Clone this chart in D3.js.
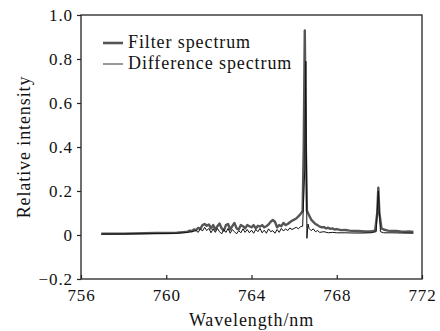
<!DOCTYPE html>
<html>
<head>
<meta charset="utf-8">
<script src="https://cdn.jsdelivr.net/npm/d3@7"></script>
<style>
  body { margin: 0; background: #fff; }
  svg text { font-family: "Liberation Serif", "Times New Roman", serif; fill: #111; letter-spacing: 0.9px; }
</style>
</head>
<body>
<div id="chart"></div>
<script>
// Spectrum values
const filterWl = [756.95, 757.5, 758.0, 758.5, 759.0, 759.5, 760.0, 760.5, 760.8, 761.0,
  761.1, 761.2, 761.3, 761.4, 761.5, 761.6, 761.7, 761.8, 761.9, 762.0,
  762.1, 762.2, 762.3, 762.4, 762.5, 762.6, 762.7, 762.8, 762.9, 763.0,
  763.1, 763.2, 763.3, 763.4, 763.5, 763.6, 763.7, 763.8, 763.9, 764.0,
  764.1, 764.2, 764.3, 764.4, 764.5, 764.6, 764.7, 764.8, 764.9, 765.0,
  765.1, 765.2, 765.3, 765.4, 765.5, 765.6, 765.7, 765.8, 765.9, 766.0,
  766.1, 766.2, 766.3, 766.4, 766.45, 766.5, 766.55, 766.6, 766.7, 766.8,
  766.9, 767.0, 767.1, 767.2, 767.3, 767.4, 767.5, 767.6, 767.7, 767.8,
  767.9, 768.0, 768.2, 768.4, 768.6, 768.8, 769.0, 769.3, 769.6, 769.8,
  769.9, 769.95, 770.0, 770.1, 770.2, 770.4, 770.6, 770.8, 771.0, 771.2,
  771.4, 771.6];
const filterVal = [0.006, 0.006, 0.006, 0.007, 0.008, 0.009, 0.009, 0.010, 0.013, 0.015,
  0.020, 0.017, 0.025, 0.022, 0.032, 0.028, 0.045, 0.050, 0.042, 0.048,
  0.030, 0.045, 0.025, 0.040, 0.052, 0.030, 0.020, 0.045, 0.050, 0.025,
  0.040, 0.055, 0.030, 0.025, 0.045, 0.040, 0.030, 0.045, 0.040, 0.035,
  0.045, 0.030, 0.042, 0.038, 0.045, 0.035, 0.040, 0.048, 0.060, 0.068,
  0.060, 0.035, 0.045, 0.040, 0.055, 0.045, 0.050, 0.058, 0.065, 0.070,
  0.075, 0.085, 0.095, 0.110, 0.400, 0.930, 0.400, 0.110, 0.090, 0.070,
  0.060, 0.050, 0.045, 0.038, 0.035, 0.036, 0.030, 0.033, 0.028, 0.030,
  0.025, 0.027, 0.022, 0.023, 0.020, 0.018, 0.018, 0.016, 0.016, 0.020,
  0.100, 0.215, 0.100, 0.030, 0.025, 0.020, 0.018, 0.018, 0.016, 0.015,
  0.016, 0.014];

const diffWl = [756.95, 758.0, 759.0, 760.0, 760.5, 760.8, 761.0, 761.2, 761.4, 761.5,
  761.6, 761.7, 761.8, 761.9, 762.0, 762.1, 762.2, 762.3, 762.4, 762.5,
  762.6, 762.7, 762.8, 762.9, 763.0, 763.1, 763.2, 763.3, 763.4, 763.5,
  763.6, 763.7, 763.8, 763.9, 764.0, 764.1, 764.2, 764.3, 764.4, 764.5,
  764.6, 764.7, 764.8, 764.9, 765.0, 765.1, 765.2, 765.3, 765.4, 765.5,
  765.6, 765.7, 765.8, 765.9, 766.0, 766.1, 766.2, 766.3, 766.4, 766.5,
  766.55, 766.6, 766.65, 766.7, 766.8, 766.9, 767.0, 767.1, 767.2, 767.4,
  767.6, 767.8, 768.0, 768.4, 768.8, 769.2, 769.6, 769.85, 769.95, 770.05,
  770.2, 770.6, 771.0, 771.6];
const diffVal = [0.004, 0.005, 0.006, 0.007, 0.008, 0.010, 0.012, 0.015, 0.020, 0.012,
  0.028, 0.018, 0.035, 0.020, 0.030, 0.010, 0.028, 0.012, 0.030, 0.015,
  0.005, 0.025, 0.012, 0.030, 0.008, 0.025, 0.015, 0.005, 0.020, 0.010,
  0.028, 0.012, 0.025, 0.010, 0.022, 0.008, 0.025, 0.015, 0.030, 0.010,
  0.022, 0.008, 0.028, 0.015, 0.020, 0.008, 0.025, 0.012, 0.030, 0.018,
  0.028, 0.020, 0.032, 0.025, 0.030, 0.035, 0.028, 0.038, 0.040, 0.300,
  0.790, -0.015, 0.050, 0.030, 0.020, 0.028, 0.015, 0.020, 0.012, 0.015,
  0.010, 0.012, 0.010, 0.010, 0.009, 0.009, 0.010, 0.015, 0.200, 0.015,
  0.010, 0.010, 0.009, 0.008];

const xTicks = [756, 760, 764, 768, 772];
const yTicks = [-0.2, 0, 0.2, 0.4, 0.6, 0.8, 1.0];
const seriesNames = ["Filter spectrum", "Difference spectrum"];

const W = 440, H = 331;
const margin = { top: 15, right: 18, bottom: 52, left: 81 };
const iw = W - margin.left - margin.right;
const ih = H - margin.top - margin.bottom;
const tickFont = "17px";
const labelFont = "18px";

const svg = d3.select("#chart").append("svg")
  .attr("width", W).attr("height", H);
const g = svg.append("g").attr("transform", `translate(${margin.left},${margin.top})`);

const x = d3.scaleLinear().domain([756, 772]).range([0, iw]);
const y = d3.scaleLinear().domain([-0.2, 1.0]).range([ih, 0]);

const line = d3.line().x(d => x(d[0])).y(d => y(d[1]));
const filterData = filterWl.map((w, i) => [w, filterVal[i]]);
const diffData = diffWl.map((w, i) => [w, diffVal[i]]);

// curves
g.append("path").datum(filterData)
  .attr("fill", "none").attr("stroke", "#555").attr("stroke-width", 2.4)
  .attr("stroke-linejoin", "round").attr("d", line);
g.append("path").datum(diffData)
  .attr("fill", "none").attr("stroke", "#111").attr("stroke-width", 1)
  .attr("d", line);

// frame
g.append("rect").attr("width", iw).attr("height", ih)
  .attr("fill", "none").attr("stroke", "#222").attr("stroke-width", 1.3);

// x axis: ticks point inward
const xAxis = g.append("g").attr("transform", `translate(0,${ih})`)
  .call(d3.axisBottom(x).tickValues(xTicks).tickSize(-4).tickPadding(10).tickFormat(d3.format("d")));
xAxis.select(".domain").remove();
xAxis.selectAll("line").attr("stroke", "#222").attr("stroke-width", 1.2);
xAxis.selectAll("text").style("font-size", tickFont).attr("fill", "#111");

// y axis: ticks point outward
const yAxis = g.append("g")
  .call(d3.axisLeft(y).tickValues(yTicks).tickSize(4).tickPadding(4)
    .tickFormat(d => d === 0 ? "0" : (d < 0 ? "\u22120.2" : d.toFixed(1))));
yAxis.select(".domain").remove();
yAxis.selectAll("line").attr("stroke", "#222").attr("stroke-width", 1.2);
yAxis.selectAll("text").style("font-size", tickFont).attr("fill", "#111");

// axis titles
svg.append("text")
  .attr("x", margin.left + iw / 2).attr("y", 326)
  .attr("text-anchor", "middle").style("font-size", labelFont)
  .text("Wavelength/nm");
svg.append("text")
  .attr("transform", `translate(30,${margin.top + ih / 2}) rotate(-90)`)
  .attr("text-anchor", "middle").style("font-size", labelFont)
  .text("Relative intensity");

// legend
const legend = svg.append("g").attr("transform", "translate(103,43)");
const items = legend.selectAll("g").data(seriesNames).enter().append("g")
  .attr("transform", (d, i) => `translate(0,${i * 21})`);
items.append("line")
  .attr("x1", 0).attr("x2", 20).attr("y1", 0).attr("y2", 0)
  .attr("stroke", (d, i) => i === 0 ? "#555" : "#333")
  .attr("stroke-width", (d, i) => i === 0 ? 2.6 : 1);
items.append("text")
  .attr("x", 25).attr("y", 5)
  .style("font-size", labelFont)
  .text(d => d);
</script>
</body>
</html>
